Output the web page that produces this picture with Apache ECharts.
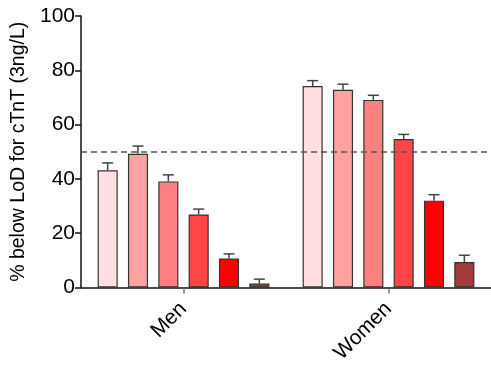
<!DOCTYPE html>
<html>
<head>
<meta charset="utf-8">
<script src="https://cdn.jsdelivr.net/npm/echarts@6/dist/echarts.min.js"></script>
<style>
  html, body { margin: 0; padding: 0; background: #fff; }
  #chart { width: 491px; height: 366px; }
</style>
</head>
<body>
<div id="chart"></div>
<script>
// Groups on the x axis
const categories = ['Men', 'Women'];
// Six subgroups, drawn left to right within each group
const seriesNames = ['Group 1', 'Group 2', 'Group 3', 'Group 4', 'Group 5', 'Group 6'];
// Percentage below the limit of detection (mean), per subgroup: [Men, Women]
const group1 = [43.2, 74.2];
const group2 = [49.3, 72.8];
const group3 = [39.1, 69.1];
const group4 = [26.9, 54.7];
const group5 = [10.7, 32.0];
const group6 = [1.5, 9.4];
// Standard errors (upper whisker), per subgroup: [Men, Women]
const err1 = [2.7, 2.0];
const err2 = [2.8, 2.1];
const err3 = [2.4, 1.7];
const err4 = [2.0, 1.7];
const err5 = [1.7, 2.2];
const err6 = [1.6, 2.5];
// Reference line
const thresholdValue = 50;
// Y axis ticks
const yTicks = [0, 20, 40, 60, 80, 100];

const means = [group1, group2, group3, group4, group5, group6];
const errors = [err1, err2, err3, err4, err5, err6];
const colors = ['#FFDFE1', '#FFA1A1', '#FF8080', '#FF4545', '#FF0000', '#A23B3B'];

const BAR_FRAC = 0.098;   // bar width as fraction of category band
const GAP_FRAC = 0.51;    // gap between bars as fraction of bar width
const FONT = 'Liberation Sans, Arial, sans-serif';

const series = [];
means.forEach((vals, i) => {
  const bar = {
    name: seriesNames[i],
    type: 'bar',
    data: vals,
    barWidth: (BAR_FRAC * 100) + '%',
    barGap: (GAP_FRAC * 100) + '%',
    itemStyle: { color: colors[i], borderColor: '#333', borderWidth: 1.2 },
    emphasis: { disabled: true },
    z: 2
  };
  if (i === 0) {
    bar.markLine = {
      silent: true,
      symbol: 'none',
      label: { show: false },
      lineStyle: { color: '#555', type: [6, 4], width: 1.5 },
      data: [{ yAxis: thresholdValue }]
    };
  }
  series.push(bar);
});

// Error bars: whisker from bar top to mean + SE, with a horizontal cap
means.forEach((vals, i) => {
  series.push({
    type: 'custom',
    name: seriesNames[i] + ' SE',
    data: vals.map((v, k) => [k, v, v + errors[i][k]]),
    z: 3,
    silent: true,
    renderItem: function (params, api) {
      const cat = api.value(0);
      const band = api.size([1, 0])[0];
      const w = band * BAR_FRAC;
      const step = w * (1 + GAP_FRAC);
      const total = 6 * w + 5 * w * GAP_FRAC;
      const off = -total / 2 + w / 2 + i * step;
      const base = api.coord([cat, api.value(1)]);
      const top = api.coord([cat, api.value(2)]);
      const x = base[0] + off;
      const cap = 5.5;
      const style = { stroke: '#444', lineWidth: 1.5, fill: null };
      return {
        type: 'group',
        children: [
          { type: 'line', shape: { x1: x, y1: base[1], x2: x, y2: top[1] }, style: style },
          { type: 'line', shape: { x1: x - cap, y1: top[1], x2: x + cap, y2: top[1] }, style: style }
        ]
      };
    }
  });
});

const chart = echarts.init(document.getElementById('chart'), null, { renderer: 'canvas' });
chart.setOption({
  animation: false,
  backgroundColor: '#fff',
  grid: { left: 81, right: 0, top: 16, bottom: 77, containLabel: false },
  xAxis: {
    type: 'category',
    data: categories,
    axisLine: { lineStyle: { color: '#111', width: 1.5 } },
    axisTick: { show: true, alignWithLabel: true, length: 6, lineStyle: { color: '#777', width: 1.5 } },
    axisLabel: { rotate: 45, margin: 18, fontSize: 21, color: '#000', fontFamily: FONT },
    splitLine: { show: false }
  },
  yAxis: {
    type: 'value',
    min: yTicks[0],
    max: yTicks[yTicks.length - 1],
    interval: yTicks[1] - yTicks[0],
    name: '% below LoD for cTnT (3ng/L)',
    nameLocation: 'middle',
    nameRotate: 90,
    nameGap: 52,
    nameTextStyle: { fontSize: 19.5, color: '#000', fontFamily: FONT },
    axisLine: { show: true, lineStyle: { color: '#111', width: 1.5 } },
    axisTick: { show: true, length: 6, lineStyle: { color: '#111', width: 1.5 } },
    axisLabel: { fontSize: 21, color: '#000', margin: 6, fontFamily: FONT },
    splitLine: { show: false }
  },
  series: series
});
</script>
</body>
</html>
